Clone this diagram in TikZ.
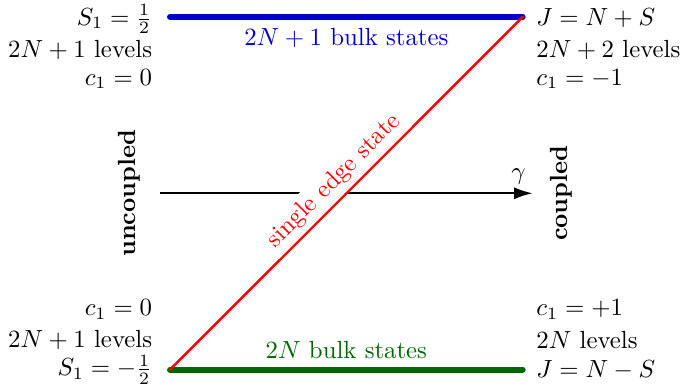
\documentclass[tikz,border=0pt]{standalone}
\usetikzlibrary{arrows.meta}
\definecolor{Bulk}{RGB}{0,0,204}
\definecolor{Bulkb}{RGB}{0,102,0}
\begin{document}
\begin{tikzpicture}[
    lvl/.style={line width=2.4pt,line cap=round},
    leftlbl/.style={anchor=east},
    rightlbl/.style={anchor=west},
    side/.style={rotate=90,font=\bfseries}]
    \useasboundingbox (-2.41,-0.27) rectangle (7.23,5.24);
    % levels
    \coordinate (bl) at (0,0);
    \coordinate (br) at (5,0);
    \coordinate (tl) at (0,5);
    \coordinate (tr) at (5,5);
    \coordinate (gstart) at (-0.14,2.5);
    \coordinate (gend) at (5.14,2.5);
    \draw[thick,-{Latex[length=2.6mm,width=1.7mm]}] (gstart) -- (gend)
      node[pos=0.962,above] (gam) {$\gamma$};
    \draw[lvl,Bulk] (tl) -- (tr) node[midway,below,text=Bulk] (upper) {$2N+1$ bulk states};
    \draw[lvl,Bulkb] (bl) -- (br) node[midway,above,text=Bulkb] (lower) {$2N$ bulk states};
    \draw[line width=1pt,red,line cap=round] (bl) -- (tr)
      node[midway,sloped,above,fill=white,inner sep=2pt,text=red] (edge) {single edge state};
    % left side
    \node[leftlbl] (s1top) at (-0.13,4.97) {$S_1=\frac12$};
    \node[leftlbl] (nltop) at (-0.13,4.53) {$2N+1$ levels};
    \node[leftlbl] (c1top) at (-0.13,4.12) {$c_1=0$};
    \node[leftlbl] (c1bot) at (-0.13,0.85) {$c_1=0$};
    \node[leftlbl] (nlbot) at (-0.13,0.42) {$2N+1$ levels};
    \node[leftlbl] (s1bot) at (-0.13,0) {$S_1=-\frac12$};
    % right side
    \node[rightlbl] (jtop) at (5.07,4.98) {$J=N+S$};
    \node[rightlbl] (nrtop) at (5.07,4.53) {$2N+2$ levels};
    \node[rightlbl] (crtop) at (5.07,4.12) {$c_1=-1$};
    \node[rightlbl] (crbot) at (5.07,0.85) {$c_1=+1$};
    \node[rightlbl] (nrbot) at (5.07,0.42) {$2N$ levels};
    \node[rightlbl] (jbot) at (5.07,0) {$J=N-S$};
    \node[side] (unc) at (-0.57,2.5) {uncoupled};
    \node[side] (cpl) at (5.55,2.5) {coupled};
\end{tikzpicture}
\end{document}
